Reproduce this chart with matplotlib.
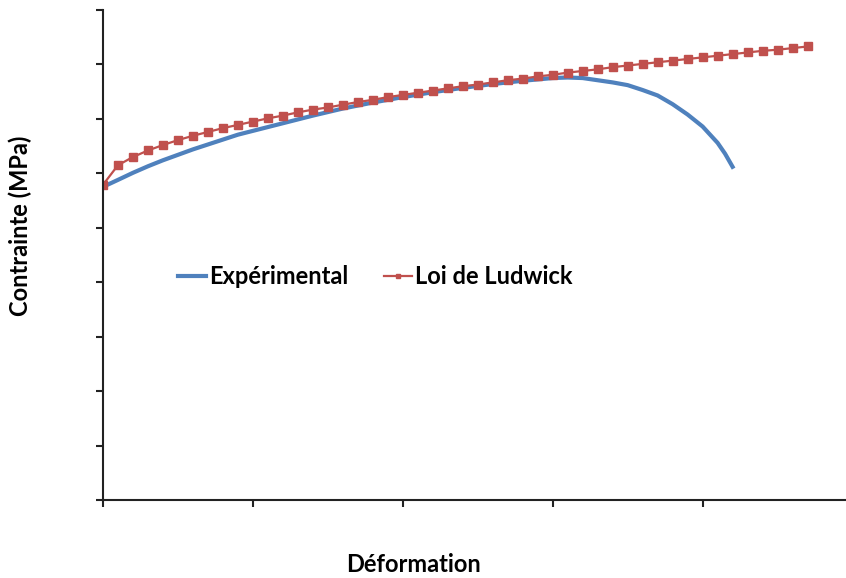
import matplotlib
matplotlib.use("Agg")
import matplotlib.pyplot as plt

# Loi de Ludwick
def_ludwick = [0.0, 0.1, 0.2, 0.3, 0.4, 0.5, 0.6, 0.7, 0.8, 0.9,
               1.0, 1.1, 1.2, 1.3, 1.4, 1.5, 1.6, 1.7, 1.8, 1.9,
               2.0, 2.1, 2.2, 2.3, 2.4, 2.5, 2.6, 2.7, 2.8, 2.9,
               3.0, 3.1, 3.2, 3.3, 3.4, 3.5, 3.6, 3.7, 3.8, 3.9,
               4.0, 4.1, 4.2, 4.3, 4.4, 4.5, 4.6, 4.7]
sig_ludwick = [5.79, 6.15, 6.30, 6.42, 6.52, 6.61, 6.69, 6.76, 6.83, 6.89,
               6.95, 7.01, 7.06, 7.12, 7.17, 7.21, 7.26, 7.31, 7.35, 7.40,
               7.44, 7.48, 7.52, 7.56, 7.60, 7.63, 7.67, 7.71, 7.74, 7.78,
               7.81, 7.85, 7.88, 7.91, 7.95, 7.98, 8.01, 8.04, 8.07, 8.10,
               8.13, 8.16, 8.19, 8.22, 8.25, 8.27, 8.30, 8.33]

# courbe experimentale
def_exp = [0.03, 0.1, 0.2, 0.3, 0.4, 0.5, 0.6, 0.7, 0.8, 0.9, 1.0, 1.2, 1.4, 1.6,
           1.8, 2.0, 2.2, 2.4, 2.6, 2.8, 3.0, 3.1, 3.2, 3.3, 3.4, 3.5, 3.6, 3.7,
           3.8, 3.9, 4.0, 4.1, 4.15, 4.2]
sig_exp = [5.79, 5.88, 6.01, 6.13, 6.24, 6.34, 6.44, 6.53, 6.62, 6.71, 6.78, 6.92, 7.06, 7.19,
           7.30, 7.40, 7.49, 7.57, 7.64, 7.70, 7.75, 7.76, 7.75, 7.71, 7.67, 7.62, 7.53, 7.43,
           7.27, 7.08, 6.86, 6.56, 6.36, 6.12]

plt.rcParams['font.family'] = ['Lato', 'DejaVu Sans']

fig = plt.figure(figsize=(8.46, 5.78), dpi=100)
ax = fig.add_axes([103/846, 78/578, 742/846, 490/578])

ax.plot(def_exp, sig_exp, color='#4F81BD', lw=3, label='Expérimental')
ax.plot(def_ludwick, sig_ludwick, color='#C0504D', lw=1.6, marker='s', markersize=6,
        label='Loi de Ludwick')

ax.set_xlim(0, 4.95)
ax.set_ylim(0, 9)
ax.set_xticks([0, 1, 2, 3, 4])
ax.set_yticks(range(10))
ax.set_xticklabels([])
ax.set_yticklabels([])
ax.tick_params(axis='both', direction='out', length=5, width=1.5, color='#222222')
for s in ['top', 'right']:
    ax.spines[s].set_visible(False)
for s in ['left', 'bottom']:
    ax.spines[s].set_linewidth(1.5)
    ax.spines[s].set_color('#222222')

ax.legend(loc='center', bbox_to_anchor=(375/846, 1 - 277/578),
          bbox_transform=fig.transFigure, ncol=2, frameon=False,
          prop={'weight': 'bold', 'size': 17}, handlelength=1.2, handletextpad=0.12,
          columnspacing=1.5, markerscale=0.6)

fig.text(20/846, 1 - 226/578, 'Contrainte (MPa)', rotation=90, ha='center', va='center',
         fontsize=17, fontweight='bold')
fig.text(413/846, 1 - 565/578, 'Déformation', ha='center', va='center',
         fontsize=17, fontweight='bold')

fig.savefig('out.png', dpi=100)
